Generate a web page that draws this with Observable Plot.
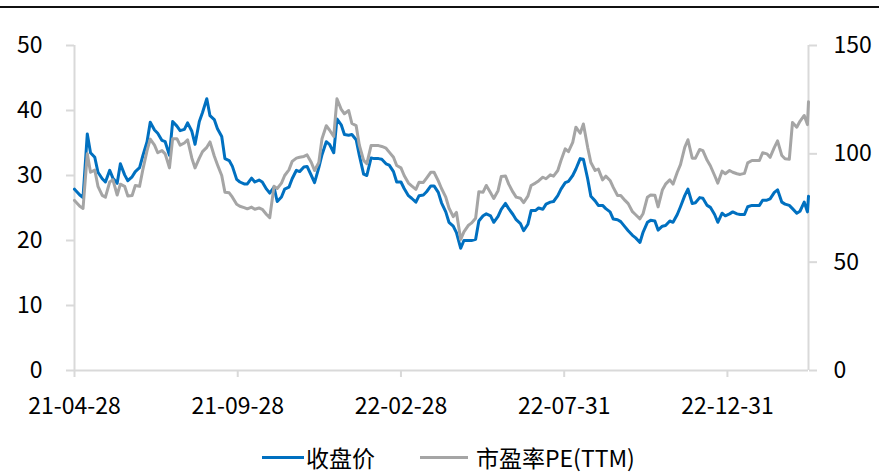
<!DOCTYPE html>
<html>
<head>
<meta charset="utf-8">
<script src="https://cdn.jsdelivr.net/npm/d3@7"></script>
<script src="https://cdn.jsdelivr.net/npm/@observablehq/plot@0.6"></script>
<style>
  html, body { margin: 0; padding: 0; background: #fff; }
  #wrap { position: relative; width: 879px; height: 473px; overflow: hidden;
          font-family: "Noto Sans CJK SC", "Noto Sans", sans-serif; }
  #topline { position: absolute; left: 0; top: 6px; width: 879px; height: 2px; background: #111; }
  #chart { position: absolute; left: 0; top: 0; }
  .lg-swatch { position: absolute; height: 3px; }
  .lg-text { position: absolute; font-size: 23px; line-height: 32px; color: #000; white-space: nowrap; }
</style>
</head>
<body>
<div id="wrap">
  <div id="topline"></div>
  <div id="chart"></div>
  <div id="legend"></div>
</div>
<script>
// Trading dates (twice a week) for the close price and PE(TTM) series
const dates = [
  "2021-04-28","2021-05-03","2021-05-06","2021-05-10","2021-05-13","2021-05-17","2021-05-20","2021-05-24","2021-05-27","2021-05-31","2021-06-03",
  "2021-06-07","2021-06-10","2021-06-14","2021-06-17","2021-06-21","2021-06-24","2021-06-28","2021-07-01","2021-07-05","2021-07-08",
  "2021-07-12","2021-07-15","2021-07-19","2021-07-22","2021-07-26","2021-07-29","2021-08-02","2021-08-05","2021-08-09","2021-08-12",
  "2021-08-16","2021-08-19","2021-08-23","2021-08-26","2021-08-30","2021-09-02","2021-09-06","2021-09-09","2021-09-13","2021-09-16",
  "2021-09-20","2021-09-23","2021-09-27","2021-09-30","2021-10-04","2021-10-07","2021-10-11","2021-10-14","2021-10-18","2021-10-21",
  "2021-10-25","2021-10-28","2021-11-01","2021-11-04","2021-11-08","2021-11-11","2021-11-15","2021-11-18","2021-11-22","2021-11-25",
  "2021-11-29","2021-12-02","2021-12-06","2021-12-09","2021-12-13","2021-12-16","2021-12-20","2021-12-23","2021-12-27","2021-12-30",
  "2022-01-03","2022-01-06","2022-01-10","2022-01-13","2022-01-17","2022-01-20","2022-01-24","2022-01-27","2022-01-31","2022-02-03",
  "2022-02-07","2022-02-10","2022-02-14","2022-02-17","2022-02-21","2022-02-24","2022-02-28","2022-03-03","2022-03-07","2022-03-10",
  "2022-03-14","2022-03-17","2022-03-21","2022-03-24","2022-03-28","2022-03-31","2022-04-04","2022-04-07","2022-04-11","2022-04-14",
  "2022-04-18","2022-04-21","2022-04-25","2022-04-28","2022-05-02","2022-05-05","2022-05-09","2022-05-12","2022-05-16","2022-05-19",
  "2022-05-23","2022-05-26","2022-05-30","2022-06-02","2022-06-06","2022-06-09","2022-06-13","2022-06-16","2022-06-20","2022-06-23",
  "2022-06-27","2022-06-30","2022-07-04","2022-07-07","2022-07-11","2022-07-14","2022-07-18","2022-07-21","2022-07-25","2022-07-28",
  "2022-08-01","2022-08-04","2022-08-08","2022-08-11","2022-08-15","2022-08-18","2022-08-22","2022-08-25","2022-08-29","2022-09-01",
  "2022-09-05","2022-09-08","2022-09-12","2022-09-15","2022-09-19","2022-09-22","2022-09-26","2022-09-29","2022-10-03","2022-10-06",
  "2022-10-10","2022-10-13","2022-10-17","2022-10-20","2022-10-24","2022-10-27","2022-10-31","2022-11-03","2022-11-07","2022-11-10",
  "2022-11-14","2022-11-17","2022-11-21","2022-11-24","2022-11-28","2022-12-01","2022-12-05","2022-12-08","2022-12-12","2022-12-15",
  "2022-12-19","2022-12-22","2022-12-26","2022-12-29","2023-01-02","2023-01-05","2023-01-09","2023-01-12","2023-01-16","2023-01-19",
  "2023-01-23","2023-01-26","2023-01-30","2023-02-02","2023-02-06","2023-02-09","2023-02-13","2023-02-16","2023-02-20","2023-02-23",
  "2023-02-27","2023-03-02","2023-03-06","2023-03-09","2023-03-13","2023-03-16","2023-03-17"
];

// 收盘价 (left axis)
const closePrice = [
  27.9, 27.0, 26.6, 36.4, 33.5, 32.8, 30.5, 29.5, 29.0, 30.8, 29.6,
  28.8, 31.8, 30.1, 29.2, 29.8, 30.6, 31.2, 33.0, 35.2, 38.2,
  37.0, 36.5, 35.4, 35.2, 33.1, 38.3, 37.6, 36.9, 37.1, 38.1,
  36.8, 34.8, 38.3, 39.7, 41.8, 39.2, 38.6, 37.2, 36.0, 32.6,
  32.3, 31.4, 29.4, 29.0, 28.7, 28.7, 29.6, 29.0, 29.3, 29.0,
  27.9, 27.3, 28.2, 26.0, 26.7, 27.9, 28.2, 29.5, 30.8, 30.6,
  31.3, 31.4, 30.0, 28.9, 31.2, 33.2, 35.2, 34.8, 33.5, 38.7,
  37.8, 36.3, 36.2, 36.3, 35.5, 33.1, 30.2, 30.0, 32.7, 32.6,
  32.6, 32.5, 31.8, 31.6, 30.6, 29.0, 29.0, 28.0, 26.9, 26.5,
  25.9, 26.9, 27.0, 27.5, 28.4, 28.4, 27.4, 25.8, 24.4, 22.8,
  22.2, 21.2, 18.8, 20.0, 20.0, 20.0, 20.2, 23.0, 23.8, 24.1,
  23.8, 22.8, 23.7, 24.8, 25.7, 24.9, 24.0, 23.2, 22.6, 21.5,
  22.5, 24.6, 24.6, 25.0, 24.8, 25.6, 25.9, 26.0, 26.9, 27.9,
  28.9, 29.1, 30.0, 31.0, 32.6, 32.5, 29.5, 26.8, 26.1, 25.4,
  25.4, 24.9, 24.4, 23.3, 23.2, 22.9, 22.1, 21.5, 20.8, 20.4,
  19.7, 21.3, 22.8, 23.1, 23.0, 21.6, 22.2, 22.3, 23.0, 22.8,
  24.0, 25.2, 26.9, 27.9, 25.7, 25.8, 26.6, 26.5, 25.4, 25.1,
  24.0, 22.8, 24.2, 23.8, 24.1, 24.4, 24.1, 24.0, 24.0, 25.2,
  25.4, 25.4, 25.4, 26.2, 26.2, 26.4, 27.4, 27.8, 25.9, 25.6,
  25.4, 24.9, 24.2, 24.5, 25.9, 24.4, 26.8
];

// 市盈率PE(TTM) (right axis)
const peTTM = [
  78.5, 75.8, 74.8, 100.0, 91.5, 92.5, 85.0, 80.8, 80.0, 87.0, 88.0,
  81.0, 86.0, 85.0, 80.5, 80.8, 85.4, 85.0, 92.5, 101.5, 106.8,
  104.0, 100.5, 101.5, 100.0, 93.5, 107.0, 107.0, 104.0, 105.0, 106.5,
  98.0, 93.5, 98.0, 101.0, 103.0, 105.5, 99.0, 95.0, 90.0, 82.3,
  82.0, 80.0, 76.7, 75.8, 75.2, 74.6, 75.4, 74.4, 75.0, 74.4,
  72.0, 70.5, 85.0, 84.0, 86.5, 90.0, 92.6, 96.5, 98.0, 98.4,
  98.8, 99.5, 96.0, 92.3, 96.0, 107.0, 113.0, 111.0, 108.0, 125.4,
  120.5, 118.5, 120.0, 114.0, 113.0, 104.0, 97.0, 95.5, 103.8, 103.8,
  103.8, 103.4, 102.6, 100.8, 98.4, 94.6, 93.5, 90.0, 86.5, 85.2,
  83.6, 86.9, 86.8, 88.8, 91.5, 91.5, 87.5, 84.0, 80.0, 75.0,
  71.0, 73.0, 60.5, 64.0, 66.9, 68.0, 70.3, 82.5, 82.3, 85.4,
  82.0, 79.4, 83.0, 89.5, 89.8, 86.0, 82.3, 80.0, 79.5, 77.5,
  80.5, 85.4, 86.5, 87.5, 89.2, 88.5, 90.3, 89.7, 92.3, 96.9,
  102.3, 101.0, 105.3, 112.3, 109.5, 113.8, 103.0, 96.0, 92.3, 93.0,
  88.0, 89.7, 87.7, 84.5, 80.8, 80.8, 78.5, 77.0, 73.3, 71.9,
  70.0, 72.5, 80.0, 81.0, 80.9, 75.5, 83.3, 86.0, 88.0, 86.0,
  91.5, 95.0, 103.0, 106.5, 98.0, 98.0, 102.0, 101.5, 97.0, 94.5,
  90.0, 86.5, 92.0, 90.8, 92.3, 91.5, 90.8, 90.5, 91.0, 95.8,
  96.9, 96.9, 96.9, 100.5, 100.0, 98.4, 103.0, 106.0, 99.2, 97.7,
  97.5, 114.5, 112.3, 115.0, 117.7, 113.5, 124.0
];

// Axis ticks
const closeTicks = [0, 10, 20, 30, 40, 50];
const peTicks = [0, 50, 100, 150];
const dateTicks = ["2021-04-28", "2021-09-28", "2022-02-28", "2022-07-31", "2022-12-31"];

// Series names and colours
const seriesNames = ["收盘价", "市盈率PE(TTM)"];
const seriesColors = ["#0070C0", "#A5A5A5"];
const axisColor = "#D9D9D9";

// Right axis maps onto the left scale by the ratio of the two axis maxima
const ratio = peTicks[peTicks.length - 1] / closeTicks[closeTicks.length - 1];

const parse = d3.utcParse("%Y-%m-%d");
const rows = dates.map((d, i) => ({date: parse(d), close: closePrice[i], pe: peTTM[i]}));
const xEnds = [parse(dates[0]), parse(dates[dates.length - 1])];

const chart = Plot.plot({
  width: 879,
  height: 425,
  marginTop: 45,
  marginBottom: 55,
  marginLeft: 74,
  marginRight: 71,
  style: {fontFamily: "'Noto Sans CJK SC', 'Noto Sans', sans-serif", fontSize: "23px", color: "#000", background: "transparent", overflow: "visible"},
  x: {type: "utc", domain: xEnds},
  y: {domain: [closeTicks[0], closeTicks[closeTicks.length - 1]]},
  marks: [
    Plot.ruleY([closeTicks[0]], {stroke: axisColor, strokeWidth: 2}),
    Plot.ruleX(xEnds, {stroke: axisColor, strokeWidth: 2}),
    Plot.axisY(closeTicks, {anchor: "left", label: null, tickSize: 8, tickPadding: 24, stroke: axisColor, strokeWidth: 2, fontSize: 23}),
    Plot.axisY(peTicks.map(v => v / ratio), {anchor: "right", label: null, tickSize: 8, tickPadding: 17, stroke: axisColor, strokeWidth: 2, fontSize: 23, tickFormat: d => String(Math.round(d * ratio))}),
    Plot.axisX(dateTicks.map(parse), {anchor: "bottom", label: null, tickSize: 7, tickPadding: 20, stroke: axisColor, strokeWidth: 2, fontSize: 23, tickFormat: d3.utcFormat("%y-%m-%d")}),
    Plot.lineY(rows, {x: "date", y: "close", stroke: seriesColors[0], strokeWidth: 3, strokeLinejoin: "round"}),
    Plot.lineY(rows, {x: "date", y: d => d.pe / ratio, stroke: seriesColors[1], strokeWidth: 3, strokeLinejoin: "round"})
  ]
});
document.getElementById("chart").appendChild(chart);

// Legend below the chart
const legend = document.getElementById("legend");
const legendItems = [
  {swatchLeft: 262, swatchWidth: 42, textLeft: 306},
  {swatchLeft: 420, swatchWidth: 48, textLeft: 476}
];
seriesNames.forEach((name, i) => {
  const sw = document.createElement("div");
  sw.className = "lg-swatch";
  sw.style.left = legendItems[i].swatchLeft + "px";
  sw.style.width = legendItems[i].swatchWidth + "px";
  sw.style.top = "456px";
  sw.style.background = seriesColors[i];
  legend.appendChild(sw);
  const tx = document.createElement("div");
  tx.className = "lg-text";
  tx.style.left = legendItems[i].textLeft + "px";
  tx.style.top = "441px";
  tx.textContent = name;
  legend.appendChild(tx);
});
</script>
</body>
</html>
